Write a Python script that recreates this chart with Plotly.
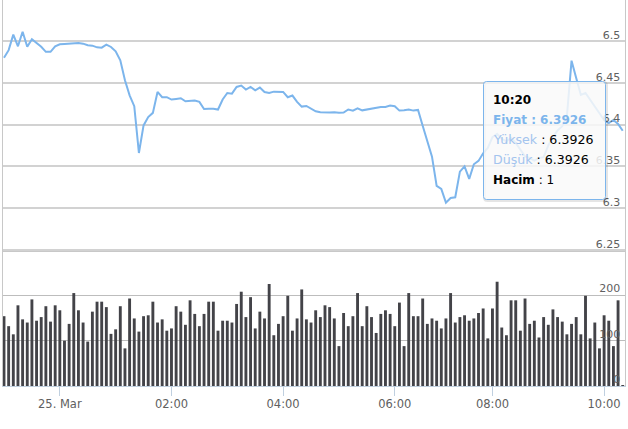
import plotly.graph_objects as go
import pandas as pd

# ---- data ----
_all = pd.date_range("2018-03-24 23:00", "2018-03-25 10:20", freq="5min")
missing = ["07:05", "07:10", "07:15"]
times = [t.strftime("%H:%M") for t in _all if t.strftime("%H:%M") not in missing]

price = [
    6.480, 6.489, 6.5076, 6.4936, 6.511, 6.493, 6.502, 6.498, 6.493, 6.487, 6.487, 6.4936, 6.496,
    6.4964, 6.4968, 6.4976, 6.4976, 6.4968, 6.4948, 6.4944, 6.4924, 6.492, 6.4956, 6.4928, 6.4876,
    6.4769, 6.453, 6.435, 6.422,
    6.366, 6.399, 6.409, 6.414, 6.439, 6.4327, 6.4327, 6.4299, 6.4307, 6.4315, 6.4279, 6.4279,
    6.4287, 6.4271, 6.4187, 6.419,
    6.419, 6.418, 6.430, 6.4378, 6.437, 6.445, 6.4466, 6.4418, 6.445, 6.441, 6.4442, 6.439, 6.4378,
    6.4394, 6.4394, 6.439, 6.4327, 6.4347, 6.4271, 6.4215, 6.4223, 6.4191, 6.4159, 6.4147, 6.4143,
    6.4143, 6.4147, 6.414, 6.4143, 6.418, 6.4167, 6.4195, 6.417, 6.418, 6.419, 6.4207, 6.4211,
    6.4211, 6.4227, 6.422, 6.4167, 6.417, 6.418, 6.4167, 6.4175,
    6.3985, 6.3796, 6.3616, 6.3266, 6.323, 6.3066, 6.3122, 6.313, 6.3437, 6.350, 6.335, 6.3525,
    6.3565, 6.3657,
    6.372, 6.385, 6.389, 6.383, 6.380, 6.384, 6.378, 6.370, 6.362, 6.360, 6.357, 6.360, 6.361,
    6.375, 6.385, 6.393, 6.398, 6.410, 6.4764,
    6.4557, 6.4354, 6.4378, 6.4294, 6.421, 6.4127, 6.4055, 6.4019, 6.4055, 6.4007, 6.3926,
]

volume = [
    154, 132, 114, 178, 147, 140, 191, 144, 152, 176, 142, 178, 167, 100, 137, 205, 167, 140, 98,
    164, 186, 186, 174, 115, 125, 176, 83, 193, 149, 120, 154, 156, 186, 140,
    147, 122, 127, 176, 164, 135, 189, 159, 132, 159, 186, 186, 122, 144, 144, 140, 181, 208, 152,
    196, 127, 164, 149, 225, 112, 137, 154, 199, 122, 149, 213, 147, 140,
    167, 152, 178, 174, 149, 88, 161, 132, 154, 205, 132, 176, 152, 117, 159, 167, 159, 132, 184,
    88, 205, 154, 154, 193, 137, 149, 144, 127, 149, 205, 140, 152, 156, 144,
    149, 161, 171, 105, 171, 230, 129, 112, 189, 189, 122, 193, 137, 144, 107, 152, 135, 169, 152,
    142, 114, 137, 152, 114, 199, 105, 140, 83, 156, 144, 88, 189,
    1,
]

tick_times = ["00:00", "02:00", "04:00", "06:00", "08:00", "10:00"]
tick_labels = ["25. Mar", "02:00", "04:00", "06:00", "08:00", "10:00"]
price_ticks = [6.25, 6.3, 6.35, 6.4, 6.45, 6.5]
price_tick_labels = ["6.25", "6.3", "6.35", "6.4", "6.45", "6.5"]
vol_ticks = [0, 100, 200]
vol_tick_labels = ["0", "100", "200"]

tooltip_time = "10:20"
tooltip_price = "6.3926"
tooltip_high = "6.3926"
tooltip_low = "6.3926"
tooltip_vol = "1"

# ---- layout geometry ----
W, H = 628, 429
ML, MR, MT, MB = 3, 3, 0, 43
PW = W - ML - MR
PH = H - MT - MB  # 386

def px(xp):
    return (xp - ML) / PW

def py(yp):
    return (PH - (yp - MT)) / PH

FONT = "DejaVu Sans"
LABEL = "#606060"

fig = go.Figure()
fig.add_trace(go.Bar(
    x=times, y=volume, xaxis="x", yaxis="y",
    marker=dict(color="#434348", line=dict(width=0)), width=0.62,
    hoverinfo="skip",
))
fig.add_trace(go.Scatter(
    x=times, y=price, xaxis="x2", yaxis="y2", mode="lines",
    line=dict(color="#7CB5EC", width=2), hoverinfo="skip",
))

xrange = [-0.215, len(times) - 1 + 0.49]

fig.update_layout(
    width=W, height=H,
    margin=dict(l=ML, r=MR, t=MT, b=MB, autoexpand=False),
    paper_bgcolor="white", plot_bgcolor="white",
    showlegend=False, hovermode=False, bargap=0.3,
    font=dict(family=FONT, size=11, color=LABEL),
    xaxis=dict(
        domain=[0, 1], anchor="y", type="category", range=xrange, automargin=False,
        tickmode="array", tickvals=tick_times, ticktext=tick_labels,
        ticks="outside", ticklen=9, tickwidth=1, tickcolor="#C0D0E0",
        ticklabeloverflow="allow", ticklabelstandoff=-2,
        showline=True, linecolor="#C0D0E0", linewidth=1,
        showgrid=False, zeroline=False,
        tickfont=dict(family=FONT, size=11.5, color=LABEL),
    ),
    xaxis2=dict(
        domain=[0, 1], anchor="y2", matches="x", type="category", range=xrange,
        showticklabels=False, ticks="", showgrid=False, zeroline=False, automargin=False,
        showline=True, linecolor="#C8C8C8", linewidth=1,
    ),
    yaxis=dict(
        domain=[0, (PH - 250) / PH], range=[0, 300], side="right", automargin=False,
        tickmode="array", tickvals=vol_ticks, ticktext=vol_tick_labels,
        ticklabelposition="inside", ticklabelshift=-7, ticklabelstandoff=4,
        ticklabeloverflow="allow",
        ticks="", showgrid=True, gridcolor="#BDBDBD", gridwidth=1,
        zeroline=False, showline=True, mirror=True, linecolor="#C8C8C8", linewidth=1,
        tickfont=dict(family=FONT, size=11, color=LABEL),
    ),
    yaxis2=dict(
        domain=[(PH - 251) / PH, 1], range=[6.549 - 251 / 836, 6.549], side="right",
        automargin=False,
        tickmode="array", tickvals=price_ticks, ticktext=price_tick_labels,
        ticklabelposition="inside", ticklabelshift=-6, ticklabelstandoff=4,
        ticklabeloverflow="allow",
        ticks="", showgrid=True, gridcolor="#D2D2D2", gridwidth=1.5,
        zeroline=False, showline=True, mirror=True, linecolor="#C8C8C8", linewidth=1,
        tickfont=dict(family=FONT, size=11, color=LABEL),
    ),
)

# ---- tooltip ----
bx0, by0, bx1, by1 = 483.5, 81.5, 605.5, 199.5
r = 3

def rounded_path(x0, y0, x1, y1, rr):
    pts = [
        f"M{px(x0 + rr)},{py(y0)}",
        f"L{px(x1 - rr)},{py(y0)}",
        f"Q{px(x1)},{py(y0)} {px(x1)},{py(y0 + rr)}",
        f"L{px(x1)},{py(y1 - rr)}",
        f"Q{px(x1)},{py(y1)} {px(x1 - rr)},{py(y1)}",
        f"L{px(x0 + rr)},{py(y1)}",
        f"Q{px(x0)},{py(y1)} {px(x0)},{py(y1 - rr)}",
        f"L{px(x0)},{py(y0 + rr)}",
        f"Q{px(x0)},{py(y0)} {px(x0 + rr)},{py(y0)}",
        "Z",
    ]
    return " ".join(pts)

fig.add_shape(type="path", xref="paper", yref="paper",
              path=rounded_path(bx0 + 1, by0 + 1, bx1 + 1, by1 + 1, r),
              line=dict(color="rgba(0,0,0,0.10)", width=3), fillcolor="rgba(0,0,0,0)",
              layer="above")
fig.add_shape(type="path", xref="paper", yref="paper",
              path=rounded_path(bx0, by0, bx1, by1, r),
              line=dict(color="#7CB5EC", width=1), fillcolor="rgba(249,249,249,0.85)",
              layer="above")

HL = "#a3c4ee"
lines = [
    (99.5, f"<b>{tooltip_time}</b>", "#000000", 12),
    (119.5, f"<b>Fiyat : {tooltip_price}</b>", "#7CB5EC", 12),
    (139.5, f"<span style='color:{HL}'>Yüksek</span> : {tooltip_high}", "#000000", 12.6),
    (159.5, f"<span style='color:{HL}'>Düşük</span> : {tooltip_low}", "#000000", 12.6),
    (179.5, f"<b>Hacim</b> : {tooltip_vol}", "#000000", 12),
]
for yy, txt, col, fs in lines:
    fig.add_annotation(x=px(491), y=py(yy), xref="paper", yref="paper",
                       xanchor="left", yanchor="middle", showarrow=False,
                       text=txt, font=dict(family=FONT, size=fs, color=col))

fig.write_html("out.html", config={"displayModeBar": False},
               post_script="document.body.style.margin='0';document.body.style.padding='0';")
